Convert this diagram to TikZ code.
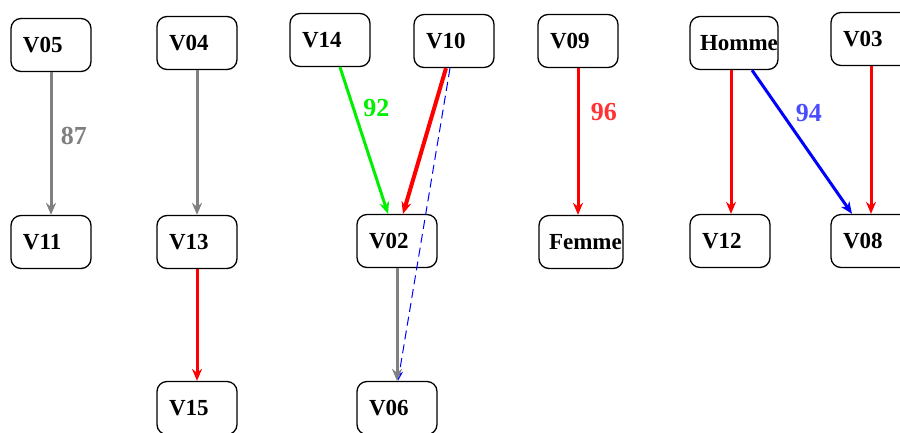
\documentclass[tikz,border=0pt]{standalone}
\usepackage{fontspec}
\setmainfont{Liberation Serif}
\usepackage{xcolor}
\usetikzlibrary{arrows.meta,positioning}

\definecolor{gris}{RGB}{128,128,128}
\definecolor{rouge}{RGB}{255,0,0}
\definecolor{vert}{RGB}{0,240,0}
\definecolor{bleu}{RGB}{0,0,255}

\begin{document}
\begin{tikzpicture}[x=1pt,y=-1pt,
    var/.style={draw,line width=1.3pt,rounded corners=10pt,minimum width=80pt,minimum height=53pt,
      text width=56pt,inner xsep=12pt,inner ysep=0pt,align=left,font=\fontsize{23}{26}\selectfont\bfseries},
    large/.style={text width=#1,inner xsep=10pt},
    lien/.style={line width=3pt,-{Stealth[length=12pt,width=10pt]}},
    poids/.style={font=\fontsize{26}{30}\selectfont\bfseries}]
    \useasboundingbox (0,0) rectangle (900,432);
    \clip (0,0) rectangle (900,432);
    \node[var] (v05) at (51,45) {V05};
    \node[var] (v11) at (51,242) {V11};
    \node[var] (v04) at (197,43) {V04};
    \node[var] (v13) at (197,242) {V13};
    \node[var] (v15) at (197,408) {V15};
    \node[var] (v14) at (330,40) {V14};
    \node[var] (v10) at (454,41) {V10};
    \node[var] (v02) at (397,241) {V02};
    \node[var] (v06) at (397,408) {V06};
    \node[var] (v09) at (578,41) {V09};
    \node[var,large=64pt] (femme) at (581,242) {Femme};
    \node[var,large=68pt] (homme) at (734,43) {Homme};
    \node[var] (v12) at (730,241) {V12};
    \node[var] (v03) at (871,39) {V03};
    \node[var] (v08) at (871,241) {V08};
    \draw[lien,gris] (v05) -- (v11) node[poids,pos=0.45,right=5pt] (p87) {87};
    \draw[lien,gris] (v04) -- (v13);
    \draw[lien,rouge] (v13) -- (v15);
    \draw[lien,vert] ([xshift=10pt]v14.south) -- ([xshift=-9pt]v02.north) node[poids,pos=0.28,right=5pt] (p92) {92};
    \draw[lien,rouge,line width=4pt] ([xshift=-8pt]v10.south) -- ([xshift=6pt]v02.north);
    \draw[lien,bleu,line width=1pt,dash pattern=on 9pt off 5pt,-{Stealth[length=10pt,width=7pt,open]}] ([xshift=-4pt]v10.south) -- ([xshift=1pt]v06.north);
    \draw[lien,gris] (v02) -- (v06);
    \draw[lien,rouge] (v09) -- (femme.north -| v09) node[poids,pos=0.3,right=8pt,text=rouge!80] (p96) {96};
    \draw[lien,rouge] ([xshift=-3pt]homme.south) -- ([xshift=1pt]v12.north);
    \draw[lien,bleu] ([xshift=18pt]homme.south) -- ([xshift=-19pt]v08.north) node[poids,pos=0.3,right=9pt,text=bleu!70] (p94) {94};
    \draw[lien,rouge] (v03) -- (v08);
\end{tikzpicture}
\end{document}
